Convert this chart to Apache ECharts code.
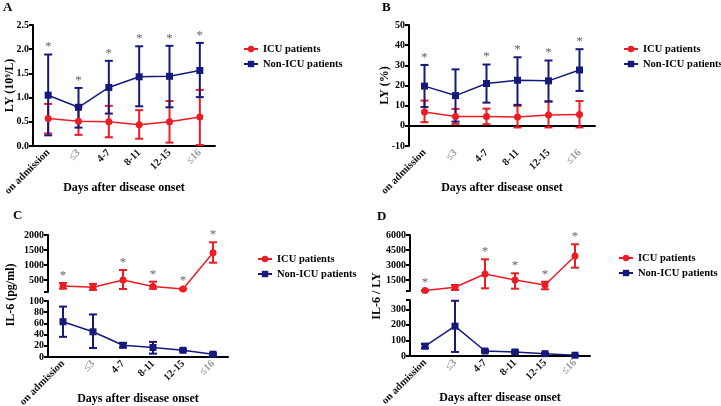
<!DOCTYPE html>
<html><head><meta charset="utf-8">
<script src="https://cdn.jsdelivr.net/npm/echarts@6/dist/echarts.min.js"></script>
<style>html,body{margin:0;padding:0;background:#fff}#c{width:721px;height:406px}</style>
</head><body><div id="c"></div>
<script>
const categories = ['on admission','≤3','4-7','8-11','12-15','≤16'];

// Panel A: LY (10^9/L)
const aIcuMean = [0.57,0.51,0.50,0.44,0.50,0.60];
const aIcuLow  = [0.26,0.23,0.18,0.15,0.07,0.02];
const aIcuHigh = [0.87,0.80,0.83,0.74,0.93,1.16];
const aNonMean = [1.05,0.80,1.21,1.43,1.44,1.56];
const aNonLow  = [0.22,0.38,0.67,0.82,0.80,1.01];
const aNonHigh = [1.89,1.20,1.76,2.06,2.07,2.13];
const aSig = [1,1,1,1,1,1];

// Panel B: LY (%)
const bIcuMean = [6.9,4.6,4.6,4.4,5.4,5.6];
const bIcuLow  = [1.8,1.0,0.8,-0.8,-0.8,-0.8];
const bIcuHigh = [12.5,8.4,8.5,9.9,12.2,12.3];
const bNonMean = [19.7,15.0,21.0,22.6,22.3,27.7];
const bNonLow  = [9.3,2.1,11.5,10.4,12.0,17.3];
const bNonHigh = [30.2,28.0,30.4,34.0,32.4,38.0];
const bSig = [1,0,1,1,1,1];

// Panel C: IL-6 (pg/ml)
const cIcuMean = [300,255,500,280,200,1410];
const cIcuLow  = [210,170,200,210,185,1077];
const cIcuHigh = [400,370,833,445,215,1757];
const cNonMean = [63,45,21,17,12,5];
const cNonLow  = [36,16,17,6,10,3];
const cNonHigh = [90,76,25,27,14,7];
const cSig = [1,0,1,1,1,1];

// Panel D: IL-6 / LY
const dIcuMean = [440,770,2100,1500,1000,3900];
const dIcuLow  = [415,500,670,630,570,2730];
const dIcuHigh = [465,1000,3570,2170,1330,5070];
const dNonMean = [63,192,32,26,15,5];
const dNonLow  = [50,26,25,18,10,3];
const dNonHigh = [78,355,38,34,20,7];
const dSig = [1,0,1,1,1,1];

// tick label lists
const cTopTicks = [500,1000,1500,2000];
const cBotTicks = [0,20,40,60,80,100];
const dTopTicks = [1500,3000,4500,6000];
const dBotTicks = [0,100,200,300];

const RED = '#ec1c24', NAVY = '#15197c';
const SERIF = 'Liberation Serif';

function errData(lo, hi){ return lo.map((v,i)=>[i, v, hi[i]]); }
function errRender(color, sig){
  return function(params, api){
    const x = api.value(0);
    const pLo = api.coord([x, api.value(1)]);
    const pHi = api.coord([x, api.value(2)]);
    const st = {stroke: color, lineWidth: 2};
    const ch = [
      {type:'line', shape:{x1:pLo[0],y1:pLo[1],x2:pHi[0],y2:pHi[1]}, style:st},
      {type:'line', shape:{x1:pLo[0]-4,y1:pLo[1],x2:pLo[0]+4,y2:pLo[1]}, style:st},
      {type:'line', shape:{x1:pHi[0]-4,y1:pHi[1],x2:pHi[0]+4,y2:pHi[1]}, style:st}
    ];
    if (sig && sig[params.dataIndex]) {
      ch.push({type:'text', x:pHi[0], y:pHi[1]-1, style:{text:'*', fill:'#666', font:'13px "Liberation Serif"', align:'center', verticalAlign:'bottom'}});
    }
    return {type:'group', children: ch};
  };
}

function xAxis(gi, show){
  return {
    type:'category', data:categories, gridIndex:gi, show:show, boundaryGap:true,
    name: 'Days after disease onset', nameLocation:'middle', nameGap:36, nameMoveOverlap:false,
    nameTextStyle:{fontFamily:SERIF, fontWeight:'bold', fontSize:12, color:'#000', verticalAlign:'top'},
    axisLine:{lineStyle:{color:'#000', width:2}},
    axisTick:{alignWithLabel:true, length:4, lineStyle:{width:2,color:'#000'}},
    axisLabel:{rotate:45, interval:0, margin:5, fontFamily:SERIF, fontWeight:'bold', fontSize:10.5,
      color: (v)=> v.indexOf('≤')>=0 ? '#999' : '#111'}
  };
}
const labelBase = {fontFamily:SERIF, fontWeight:'bold', fontSize:10, color:'#000', margin:4,
  showMinLabel:true, showMaxLabel:true, hideOverlap:false, formatter:(v)=>String(v)};
function yAxis(gi, opt, labelOpt, tickVals){
  const tick = {show:true, length:4, lineStyle:{width:2,color:'#000'}};
  if (tickVals) tick.customValues = tickVals;
  return Object.assign({
    type:'value', gridIndex:gi,
    axisLine:{show:true, lineStyle:{color:'#000', width:2}},
    axisTick:tick,
    splitLine:{show:false},
    axisLabel:Object.assign({}, labelBase, labelOpt || {}),
    nameMoveOverlap:false,
    nameTextStyle:{fontFamily:SERIF, fontWeight:'bold', fontSize:12, color:'#000'}
  }, opt);
}

function lineSeries(name, data, xi, yi, color, symbol){
  return {type:'line', name:name, data:data, xAxisIndex:xi, yAxisIndex:yi, z:3,
    symbol:symbol, symbolSize:7,
    itemStyle:{color:color}, lineStyle:{color:color, width:1.5}, animation:false};
}
function errSeries(lo, hi, xi, yi, color, sig){
  return {type:'custom', data:errData(lo,hi), xAxisIndex:xi, yAxisIndex:yi, z:2,
    renderItem: errRender(color, sig), animation:false, silent:true};
}

function legend(left, top){
  return {orient:'vertical', left:left, top:top, padding:0, itemWidth:14, itemHeight:8, itemGap:3,
    data:['ICU patients','Non-ICU patients'],
    textStyle:{fontFamily:SERIF, fontWeight:'bold', fontSize:10.5, color:'#000', lineHeight:12}};
}
function grid(l,t,w,h){ return {left:l, top:t, width:w, height:h, containLabel:false, outerBoundsMode:'none'}; }

const chart = echarts.init(document.getElementById('c'), null, {renderer:'canvas'});
chart.setOption({
  animation:false,
  backgroundColor:'#fff',
  grid:[
    grid(33,25,182,121),
    grid(409,25,186,121),
    grid(48,235,180,57),
    grid(48,301,180,56),
    grid(410,235,180,56),
    grid(410,300,180,56)
  ],
  xAxis:[xAxis(0,true), xAxis(1,true), xAxis(2,false), xAxis(3,true), xAxis(4,false), xAxis(5,true)],
  yAxis:[
    yAxis(0,{min:0,max:2.5,interval:0.5, name:'LY (10⁹/L)', nameLocation:'middle', nameGap:17},
      {formatter:(v)=>v.toFixed(1)}),
    yAxis(1,{min:-10,max:50,interval:10, name:'LY (%)', nameLocation:'middle', nameGap:18}),
    yAxis(2,{min:100,max:2000}, {customValues:cTopTicks}, [100].concat(cTopTicks)),
    yAxis(3,{min:0,max:100}, {customValues:cBotTicks}, cBotTicks),
    yAxis(4,{min:400,max:6000}, {customValues:dTopTicks}, [400].concat(dTopTicks)),
    yAxis(5,{min:0,max:360}, {customValues:dBotTicks}, dBotTicks.concat([360]))
  ],
  legend:[legend(243,43), legend(623,43), legend(257,253), legend(618,252)],
  graphic:[
    {type:'text', left:3, top:1, style:{text:'A', font:'bold 13px "Liberation Serif"', fill:'#000'}},
    {type:'text', left:382, top:1, style:{text:'B', font:'bold 13px "Liberation Serif"', fill:'#000'}},
    {type:'text', left:13, top:209, style:{text:'C', font:'bold 13px "Liberation Serif"', fill:'#000'}},
    {type:'text', left:377, top:210, style:{text:'D', font:'bold 13px "Liberation Serif"', fill:'#000'}},
    {type:'text', x:11, y:295, rotation:Math.PI/2, style:{text:'IL-6 (pg/ml)', font:'bold 12px "Liberation Serif"', fill:'#000', align:'center', verticalAlign:'middle'}},
    {type:'text', x:377, y:296, rotation:Math.PI/2, style:{text:'IL-6 / LY', font:'bold 12px "Liberation Serif"', fill:'#000', align:'center', verticalAlign:'middle'}}
  ],
  series:[
    errSeries(aIcuLow,aIcuHigh,0,0,RED,null),
    errSeries(aNonLow,aNonHigh,0,0,NAVY,aSig),
    lineSeries('ICU patients',aIcuMean,0,0,RED,'circle'),
    lineSeries('Non-ICU patients',aNonMean,0,0,NAVY,'rect'),

    errSeries(bIcuLow,bIcuHigh,1,1,RED,null),
    errSeries(bNonLow,bNonHigh,1,1,NAVY,bSig),
    lineSeries('ICU patients',bIcuMean,1,1,RED,'circle'),
    lineSeries('Non-ICU patients',bNonMean,1,1,NAVY,'rect'),

    errSeries(cIcuLow,cIcuHigh,2,2,RED,cSig),
    lineSeries('ICU patients',cIcuMean,2,2,RED,'circle'),
    errSeries(cNonLow,cNonHigh,3,3,NAVY,null),
    lineSeries('Non-ICU patients',cNonMean,3,3,NAVY,'rect'),

    errSeries(dIcuLow,dIcuHigh,4,4,RED,dSig),
    lineSeries('ICU patients',dIcuMean,4,4,RED,'circle'),
    errSeries(dNonLow,dNonHigh,5,5,NAVY,null),
    lineSeries('Non-ICU patients',dNonMean,5,5,NAVY,'rect')
  ]
});
</script></body></html>
